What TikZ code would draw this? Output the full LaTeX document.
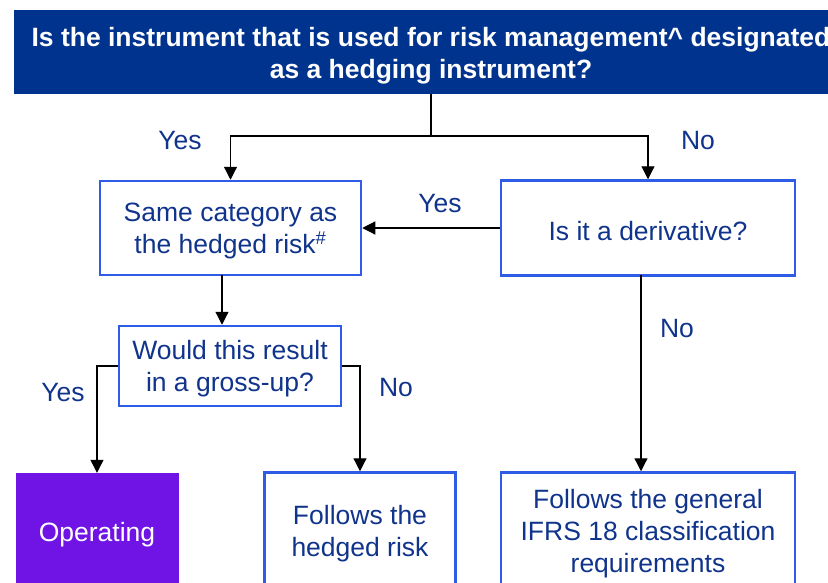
\documentclass[tikz,border=0pt]{standalone}
\usepackage{fontspec}
\setmainfont{Liberation Sans}
\usetikzlibrary{arrows.meta}
\definecolor{banner}{RGB}{0,51,141}
\definecolor{navy}{RGB}{16,52,140}
\definecolor{boxblue}{RGB}{46,92,230}
\definecolor{purp}{RGB}{112,20,230}
\begin{document}
\begin{tikzpicture}[x=1pt,y=-1pt,
  every node/.style={font=\fontsize{26.5}{32}\selectfont, text=navy, align=center, inner sep=0pt},
  flowbox/.style={draw=boxblue, line width=2.5pt, fill=white},
  boxtext/.style={yshift=-3pt},
  line/.style={line width=1.2pt, black},
  conn/.style={line width=1.2pt, black, -{Triangle[length=13pt,width=13pt]}}]
\useasboundingbox (0,0) rectangle (828,582);
\clip (0,0) rectangle (828,582);
\fill[white] (0,0) rectangle (828,582);

\node[fill=banner, minimum width=834pt, minimum height=84pt] (top) at (431,52) {};
\node[boxtext, yshift=-1pt, text=white, font=\bfseries\fontsize{26.5}{32}\selectfont] (topT) at (top.center)
  {Is the instrument that is used for risk management\textasciicircum{} designated\\as a hedging instrument?};

\node[flowbox, minimum width=261pt, minimum height=94pt] (same) at (230.5,228) {};
\node[boxtext] (sameT) at (same.center) {Same category as\\the hedged risk\textsuperscript{\#}};
\node[flowbox, minimum width=294pt, minimum height=95pt] (deriv) at (648,228) {};
\node[boxtext] (derivT) at (deriv.center) {Is it a derivative?};
\node[flowbox, minimum width=222pt, minimum height=80pt] (gross) at (230,366) {};
\node[boxtext] (grossT) at (gross.center) {Would this result\\in a gross-up?};
\node[fill=purp, minimum width=163pt, minimum height=117pt] (op) at (97,531.5) {};
\node[boxtext, text=white] (opT) at (op.center) {Operating};
\node[flowbox, minimum width=191pt, minimum height=117pt] (hedge) at (360,531) {};
\node[boxtext] (hedgeT) at (hedge.center) {Follows the\\hedged risk};
\node[flowbox, minimum width=294pt, minimum height=117pt] (gen) at (648,531) {};
\node[boxtext] (genT) at (gen.center) {Follows the general\\IFRS 18 classification\\requirements};

\coordinate (j) at (431,136);
\draw[line] (top.south) -- (j);
\draw[conn] (j) -| (same.north);
\draw[conn] (j) -| (deriv.north);
\draw[conn] (deriv.west) -- (same.east);
\coordinate (as) at (222,275);
\draw[conn] (as) -- (as |- gross.north);
\draw[conn] (gross.west) -| (op.north);
\draw[conn] (gross.east) -| (hedge.north);
\coordinate (bs) at (641,275);
\draw[conn] (bs) -- (bs |- gen.north);

\node (l1) at (180,141) {Yes};
\node (l2) at (698,141) {No};
\node (l3) at (440,204) {Yes};
\node (l4) at (63,393) {Yes};
\node (l5) at (396,388) {No};
\node (l6) at (677,329) {No};
\end{tikzpicture}
\end{document}
